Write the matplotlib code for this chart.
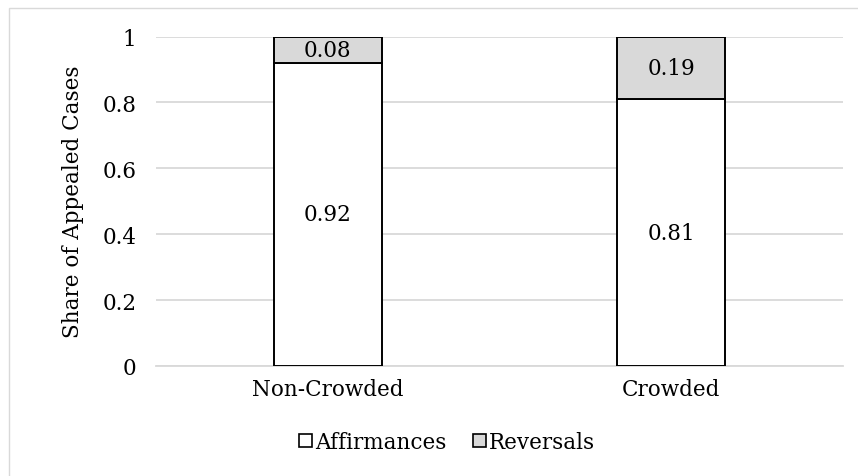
import matplotlib
matplotlib.use("Agg")
import matplotlib.pyplot as plt
from matplotlib.patches import Rectangle, Patch
import numpy as np

categories = ["Non-Crowded", "Crowded"]
affirmances = [0.92, 0.81]
reversals = [0.08, 0.19]
yticks = [0, 0.2, 0.4, 0.6, 0.8, 1]
ytick_labels = ["0", "0.2", "0.4", "0.6", "0.8", "1"]

plt.rcParams['font.family'] = ['DejaVu Serif']

W, H = 858, 477
fig = plt.figure(figsize=(W / 100, H / 100), dpi=100)
ax = fig.add_axes([156 / W, 1 - 367 / H, (843 - 156) / W, (367 - 37.5) / H])

# outer chart border
fig.patches.append(Rectangle((9 / W, -0.1), 1.2, (1 - 9 / H) + 0.1, transform=fig.transFigure,
                             fill=False, edgecolor='#d9d9d9', linewidth=1.0))

x = np.arange(len(categories))
bw = 0.315
ax.bar(x, affirmances, bw, color='white', edgecolor='black', linewidth=1.4, zorder=3, label='Affirmances')
ax.bar(x, reversals, bw, bottom=affirmances, color='#d9d9d9', edgecolor='black', linewidth=1.4,
       zorder=3, label='Reversals')

fs = 15.5
for i in range(len(categories)):
    ax.text(x[i], affirmances[i] / 2, f"{affirmances[i]:.2f}", ha='center', va='center', fontsize=fs, zorder=4)
    ax.text(x[i], affirmances[i] + reversals[i] / 2, f"{reversals[i]:.2f}", ha='center', va='center',
            fontsize=fs, zorder=4)

ax.set_xlim(-0.5, 1.5)
ax.set_ylim(0, 1)
ax.set_yticks(yticks)
ax.set_yticklabels(ytick_labels, fontsize=fs)
ax.set_xticks(x)
ax.set_xticklabels(categories, fontsize=fs)
ax.tick_params(axis='y', length=0, pad=14)
ax.tick_params(axis='x', length=0, pad=9)
ax.yaxis.grid(True, color='#d9d9d9', linewidth=1.3, zorder=0)
ax.set_axisbelow(True)
for s in ['top', 'right', 'left']:
    ax.spines[s].set_visible(False)
ax.spines['bottom'].set_color('#d9d9d9')
ax.spines['bottom'].set_linewidth(1.3)
ax.set_ylabel("Share of Appealed Cases", fontsize=fs, labelpad=13)

handles = [Patch(facecolor='white', edgecolor='black', linewidth=1.2, label='Affirmances'),
           Patch(facecolor='#d9d9d9', edgecolor='black', linewidth=1.2, label='Reversals')]
fig.legend(handles=handles, loc='center', bbox_to_anchor=(447 / W, 1 - 443 / H), ncol=2, frameon=False,
           fontsize=fs, handlelength=0.6, handleheight=0.6, handletextpad=0.15, columnspacing=1.25)

fig.savefig("out.png", dpi=100)
